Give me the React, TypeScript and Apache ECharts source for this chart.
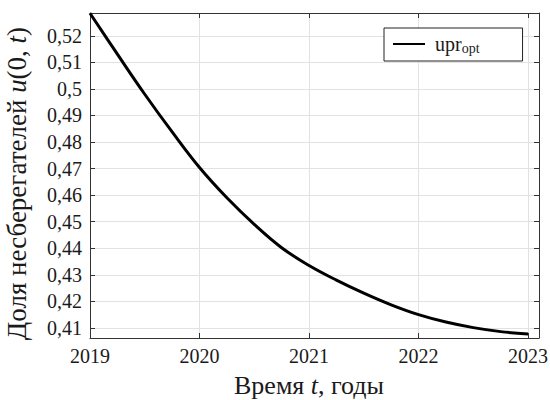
import React, { useEffect, useRef } from "react";
import * as echarts from "echarts";

// Time points (years) and the share of non-savers u(0, t)
const years = [
  2019, 2019.25, 2019.5, 2019.75, 2020, 2020.25, 2020.5, 2020.75, 2021,
  2021.25, 2021.5, 2021.75, 2022, 2022.25, 2022.5, 2022.75, 2023,
];
const shareValues = [
  0.5285, 0.5131, 0.498, 0.4838, 0.4704, 0.459, 0.449, 0.4402, 0.4335,
  0.428, 0.4231, 0.4187, 0.415, 0.4122, 0.4101, 0.4086, 0.4077,
];
const yTicks = [0.41, 0.42, 0.43, 0.44, 0.45, 0.46, 0.47, 0.48, 0.49, 0.5, 0.51, 0.52];
const seriesName = "upr_opt";

const FONT = "Liberation Serif";
const AXIS_COLOR = "#333";
const GRID_COLOR = "#e2e2e2";
const TEXT_COLOR = "#1a1a1a";

const fmtY = (v: number) => (Math.round(v * 100) / 100).toString().replace(".", ",");
const fmtX = (v: number) => (Math.abs(v - Math.round(v)) < 1e-6 ? String(Math.round(v)) : "");

export default function App() {
  const ref = useRef<HTMLDivElement>(null);

  useEffect(() => {
    document.body.style.margin = "0";
    if (!ref.current) return;
    const chart = echarts.init(ref.current, undefined, { renderer: "svg" });
    const data = years.map((y, i) => [y, shareValues[i]]);

    const tickStyle = { inside: true, length: 5, lineStyle: { color: AXIS_COLOR, width: 1 } };
    const lineStyle = { show: true, lineStyle: { color: AXIS_COLOR, width: 1 } };
    const nameStyle = (size: number, padding: number[]) => ({
      fontFamily: FONT,
      fontSize: size,
      color: TEXT_COLOR,
      padding,
      rich: { i: { fontFamily: FONT, fontSize: size, fontStyle: "italic", color: TEXT_COLOR } },
    });
    const labelStyle = { fontFamily: FONT, fontSize: 20, color: TEXT_COLOR, margin: 8 };

    chart.setOption({
      animation: false,
      backgroundColor: "#fff",
      grid: { left: 90, right: 11, top: 13, bottom: 62, containLabel: false, outerBoundsMode: "none" },
      legend: {
        show: true,
        left: 384,
        top: 28,
        orient: "horizontal",
        selectedMode: false,
        backgroundColor: "#fff",
        borderColor: "#222",
        borderWidth: 1,
        borderRadius: 0,
        padding: [6, 43, 6, 9],
        itemWidth: 32,
        itemHeight: 2,
        icon: "rect",
        formatter: () => "upr{sub|opt}",
        textStyle: {
          fontFamily: FONT,
          fontSize: 20,
          color: TEXT_COLOR,
          padding: [0, 0, 0, 5],
          rich: {
            sub: { fontFamily: FONT, fontSize: 14, color: TEXT_COLOR, verticalAlign: "bottom", padding: [8, 0, 0, 0] },
          },
        },
        data: [seriesName],
      },
      xAxis: [
        {
          type: "value",
          position: "bottom",
          min: 2019,
          max: 2023.1,
          interval: 1,
          axisLine: lineStyle,
          axisTick: tickStyle,
          axisLabel: { ...labelStyle, formatter: fmtX },
          splitLine: { show: true, lineStyle: { color: GRID_COLOR, width: 1 } },
          name: "Время {i|t}, годы",
          nameLocation: "middle",
          nameGap: 34,
          nameTextStyle: nameStyle(26, [0, 11, 0, 0]),
        },
        {
          type: "value",
          position: "top",
          min: 2019,
          max: 2023.1,
          interval: 1,
          axisLine: lineStyle,
          axisTick: tickStyle,
          axisLabel: { show: false },
          splitLine: { show: false },
        },
      ],
      yAxis: [
        {
          type: "value",
          position: "left",
          min: 0.4062,
          max: 0.5286,
          axisLine: lineStyle,
          axisTick: { ...tickStyle, customValues: yTicks },
          axisLabel: { ...labelStyle, customValues: yTicks, formatter: fmtY },
          splitLine: { show: true, lineStyle: { color: GRID_COLOR, width: 1 } },
          name: "Доля несберегателей {i|u}(0, {i|t})",
          nameLocation: "middle",
          nameGap: 60,
          nameRotate: 90,
          nameTextStyle: nameStyle(27, [0, 16, 0, 0]),
        },
        {
          type: "value",
          position: "right",
          min: 0.4062,
          max: 0.5286,
          axisLine: lineStyle,
          axisTick: { ...tickStyle, customValues: yTicks },
          axisLabel: { show: false, customValues: yTicks },
          splitLine: { show: false },
        },
      ],
      series: [
        {
          name: seriesName,
          type: "line",
          xAxisIndex: 0,
          yAxisIndex: 0,
          data,
          smooth: 0.4,
          symbol: "none",
          showSymbol: false,
          lineStyle: { color: "#000", width: 3 },
          itemStyle: { color: "#000" },
          clip: false,
        },
      ],
    });

    return () => chart.dispose();
  }, []);

  return <div ref={ref} style={{ width: 550, height: 400 }} />;
}
